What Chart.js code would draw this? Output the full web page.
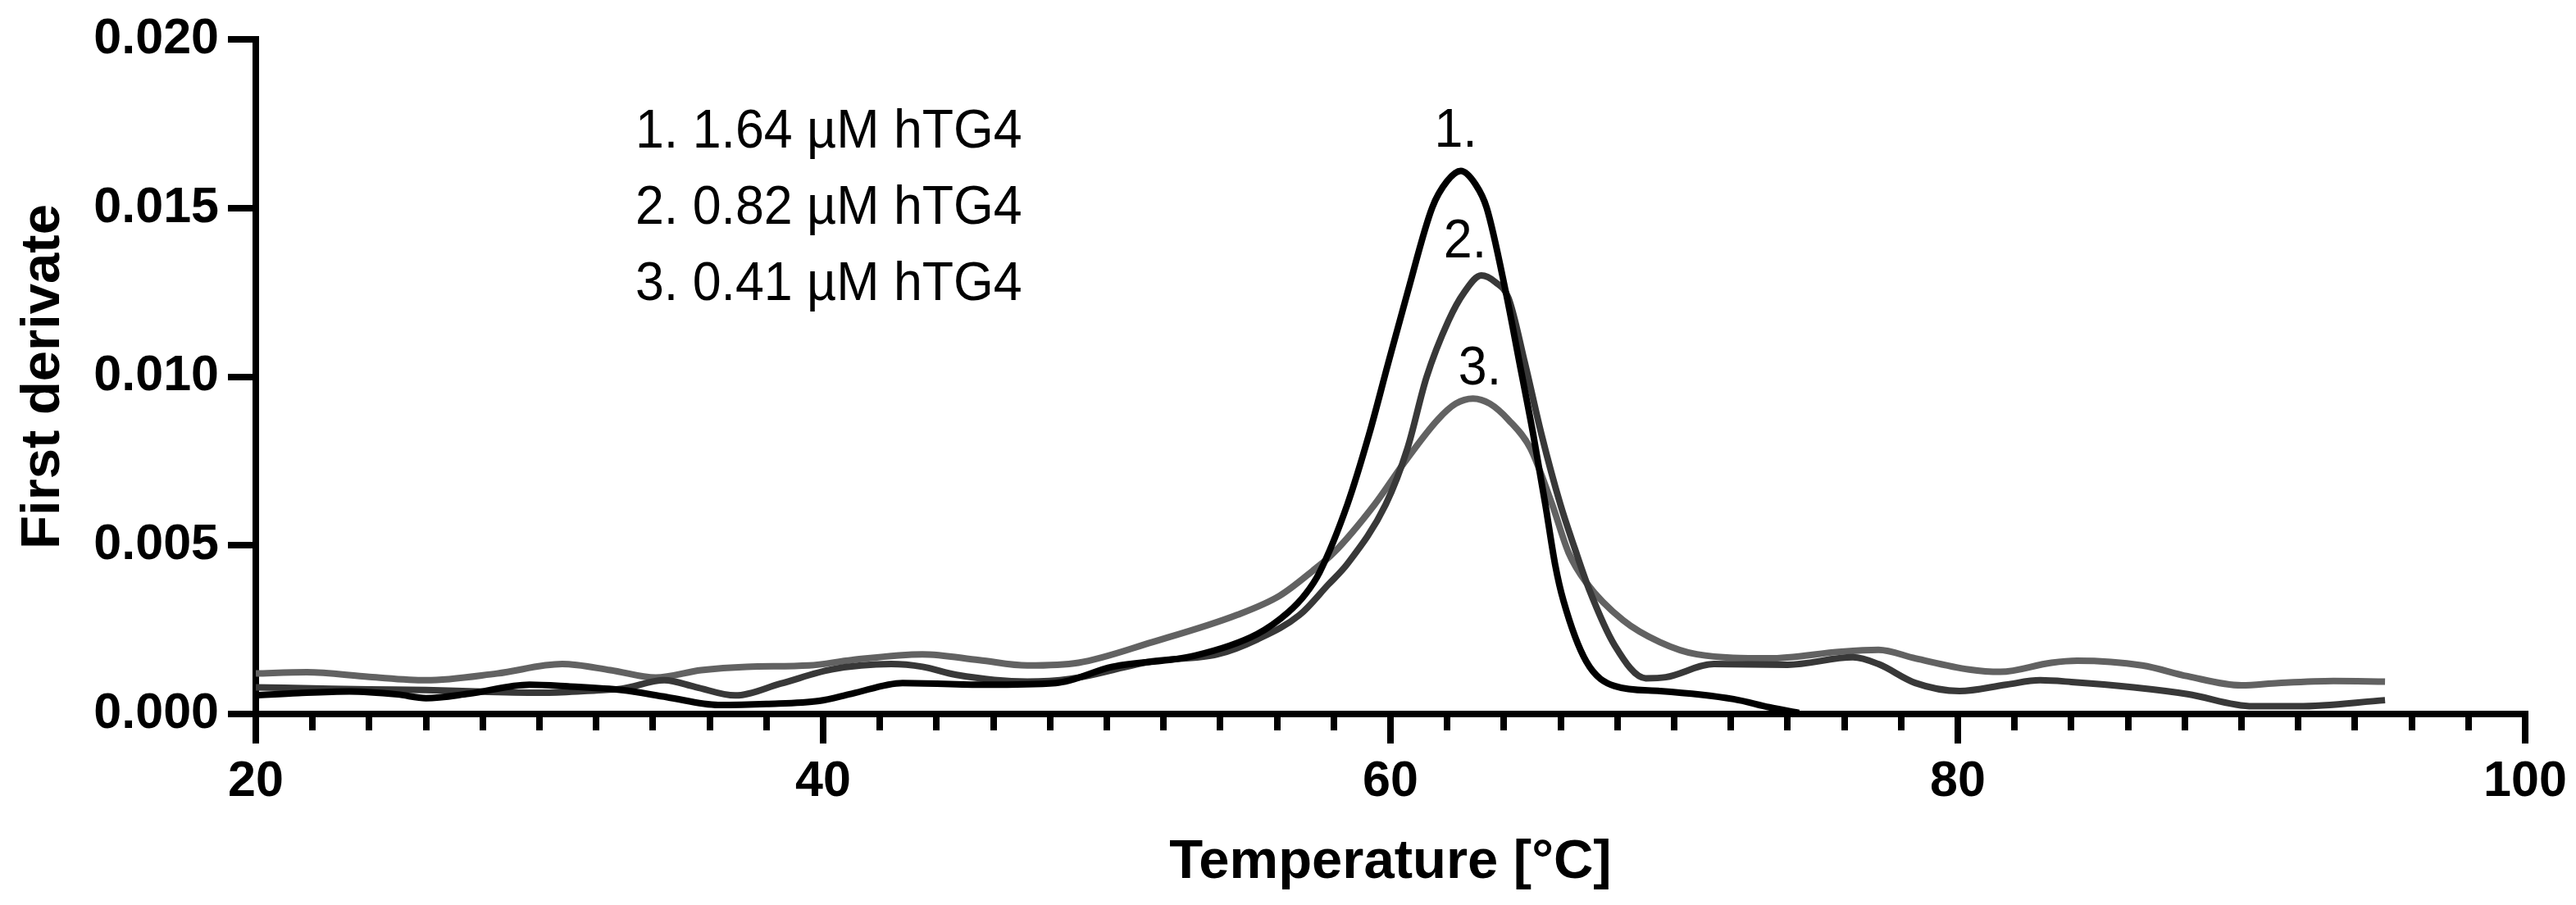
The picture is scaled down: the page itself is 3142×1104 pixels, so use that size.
<!DOCTYPE html>
<html>
<head>
<meta charset="utf-8">
<script src="https://cdn.jsdelivr.net/npm/chart.js@4/dist/chart.umd.min.js"></script>
<style>
  html, body { margin: 0; padding: 0; background: #ffffff; }
  #wrap { position: absolute; left: 0; top: 0; width: 3142px; height: 1104px; }
</style>
</head>
<body>
<div id="wrap"><canvas id="c" width="3142" height="1104"></canvas></div>
<script>
// ---------- data ----------
const series1Name = "1. 1.64 \u00b5M hTG4";
const series2Name = "2. 0.82 \u00b5M hTG4";
const series3Name = "3. 0.41 \u00b5M hTG4";

const temp1 = [20.0, 21.5, 23.3, 25.0, 26.0, 27.5, 29.65, 31.0, 32.9, 34.5, 36.3, 38.0, 39.86, 41.0, 42.8, 45.7, 48.2, 50.2, 53.1, 55.3, 56.4, 57.0, 57.5, 58.48, 59.25, 59.92, 60.6, 61.47, 62.0, 62.48, 63.0, 63.39, 64.07, 64.55, 65.03, 65.46, 65.8, 66.1, 66.9, 67.9, 69.5, 72.1, 73.35, 74.4];
const deriv1 = [0.00055, 0.00062, 0.00067, 0.00058, 0.00047, 0.00060, 0.00087, 0.00082, 0.00071, 0.00050, 0.00027, 0.00030, 0.00039, 0.00060, 0.00092, 0.00087, 0.00092, 0.00140, 0.00173, 0.00237, 0.00302, 0.00355, 0.00420, 0.00621, 0.00830, 0.01040, 0.01249, 0.01501, 0.01580, 0.01610, 0.01570, 0.01501, 0.01249, 0.01040, 0.00830, 0.00621, 0.00445, 0.00335, 0.00156, 0.00083, 0.00068, 0.00044, 0.00020, 0.00003];

const temp2 = [20.0, 22.0, 24.0, 26.0, 28.0, 30.2, 32.0, 32.9, 34.4, 35.5, 36.9, 38.5, 40.3, 42.4, 43.5, 44.7, 47.2, 48.7, 51.6, 53.9, 55.3, 56.8, 57.8, 58.48, 59.83, 60.6, 61.27, 62.04, 62.6, 63.2, 63.7, 64.16, 64.74, 65.32, 65.99, 66.5, 67.0, 67.9, 69.0, 69.7, 71.4, 74.0, 76.3, 77.2, 78.5, 80.06, 81.7, 82.9, 84.0, 86.2, 88.1, 90.4, 92.0, 95.06];
const deriv2 = [0.00079, 0.00076, 0.00073, 0.00071, 0.00066, 0.00063, 0.00070, 0.00075, 0.00100, 0.00080, 0.00055, 0.00090, 0.00132, 0.00148, 0.00140, 0.00116, 0.00096, 0.00104, 0.00156, 0.00177, 0.00221, 0.00294, 0.00383, 0.00445, 0.00621, 0.00788, 0.00998, 0.01165, 0.01250, 0.01300, 0.01280, 0.01233, 0.01040, 0.00830, 0.00621, 0.00490, 0.00370, 0.00204, 0.00106, 0.00109, 0.00148, 0.00146, 0.00168, 0.00148, 0.00092, 0.00068, 0.00087, 0.00100, 0.00095, 0.00079, 0.00059, 0.00023, 0.00023, 0.00041];

const temp3 = [20.0, 21.8, 24.0, 26.0, 28.5, 30.8, 32.5, 34.1, 35.7, 37.3, 39.5, 41.0, 43.5, 45.5, 47.2, 49.0, 51.6, 54.6, 56.1, 57.25, 58.0, 59.44, 60.5, 61.66, 62.3, 62.91, 63.5, 64.16, 64.93, 65.7, 66.28, 66.9, 68.2, 69.5, 70.8, 73.35, 75.9, 77.2, 78.5, 80.4, 81.5, 83.3, 84.2, 86.5, 88.1, 90.0, 91.3, 93.25, 95.06];
const deriv3 = [0.00120, 0.00124, 0.00110, 0.00100, 0.00120, 0.00148, 0.00130, 0.00108, 0.00130, 0.00140, 0.00144, 0.00160, 0.00177, 0.00160, 0.00144, 0.00152, 0.00213, 0.00294, 0.00351, 0.00424, 0.00478, 0.00621, 0.00747, 0.00872, 0.00920, 0.00935, 0.00920, 0.00872, 0.00788, 0.00621, 0.00478, 0.00390, 0.00278, 0.00213, 0.00177, 0.00165, 0.00185, 0.00190, 0.00165, 0.00132, 0.00125, 0.00152, 0.00158, 0.00144, 0.00112, 0.00085, 0.00092, 0.00098, 0.00096];

// axis ticks
const xMajorTicks = [20, 40, 60, 80, 100];
const xTickLabels = ["20", "40", "60", "80", "100"];
const yTicks = [0, 0.005, 0.010, 0.015, 0.020];
const yTickLabels = ["0.000", "0.005", "0.010", "0.015", "0.020"];
const xTitle = "Temperature [\u00b0C]";
const yTitle = "First derivate";

// annotations placed in data units (temperature, derivative)
const legendLines = [series1Name, series2Name, series3Name];
const legendT = [33.38, 33.38, 33.38];
const legendV = [0.01679, 0.01453, 0.01227];
const peakLabels = ["1.", "2.", "3."];
const peakT = [62.30, 62.63, 63.15];
const peakV = [0.01682, 0.01354, 0.00977];

// ---------- chart ----------
const FONT = "'Liberation Sans', Arial, Helvetica, sans-serif";
const toPts = (xs, ys) => xs.map((t, i) => ({ x: t, y: ys[i] }));

const annotate = {
  id: 'annotate',
  afterDatasetsDraw(chart) {
    const { ctx, scales: { x, y } } = chart;
    const drawText = (txt, px, py, align) => {
      ctx.save();
      ctx.translate(px, py);
      ctx.scale(0.95, 1);
      ctx.textAlign = align;
      ctx.fillText(txt, 0, 0);
      ctx.restore();
    };
    ctx.save();
    ctx.fillStyle = '#000';
    ctx.font = '66px ' + FONT;
    ctx.textBaseline = 'alphabetic';
    legendLines.forEach((txt, i) => {
      drawText(txt, x.getPixelForValue(legendT[i]), y.getPixelForValue(legendV[i]), 'left');
    });
    peakLabels.forEach((txt, i) => {
      drawText(txt, x.getPixelForValue(peakT[i]), y.getPixelForValue(peakV[i]), 'center');
    });
    ctx.restore();
  }
};

const lineStyle = (color) => ({
  borderColor: color,
  backgroundColor: color,
  borderWidth: 8,
  pointRadius: 0,
  pointHoverRadius: 0,
  fill: false,
  cubicInterpolationMode: 'monotone',
  borderCapStyle: 'butt',
  borderJoinStyle: 'round'
});

new Chart(document.getElementById('c'), {
  type: 'line',
  data: {
    datasets: [
      Object.assign({ label: series1Name, data: toPts(temp1, deriv1) }, lineStyle('#000000')),
      Object.assign({ label: series2Name, data: toPts(temp2, deriv2) }, lineStyle('#383838')),
      Object.assign({ label: series3Name, data: toPts(temp3, deriv3) }, lineStyle('#626262'))
    ]
  },
  options: {
    responsive: false,
    devicePixelRatio: 1,
    animation: false,
    events: [],
    layout: { padding: { left: 0, top: 48, right: 62, bottom: 0 } },
    plugins: { legend: { display: false }, tooltip: { enabled: false }, title: { display: false } },
    scales: {
      x2: {
        type: 'linear', position: 'bottom', weight: 0,
        min: 20, max: 100,
        afterFit: (s) => { s.height = 0; },
        border: { display: false },
        grid: { drawOnChartArea: false, drawTicks: true, tickLength: 20, tickWidth: 8, lineWidth: 8, color: '#000', tickColor: '#000' },
        ticks: { display: false, stepSize: 2, autoSkip: false }
      },
      x: {
        type: 'linear', position: 'bottom', weight: 1,
        min: 20, max: 100,
        afterFit: (s) => { s.height = 233; },
        afterBuildTicks: (s) => { s.ticks = xMajorTicks.map(v => ({ value: v })); },
        border: { display: true, color: '#000', width: 8 },
        grid: { drawOnChartArea: false, drawTicks: true, tickLength: 36, tickWidth: 8, lineWidth: 8, color: '#000', tickColor: '#000' },
        ticks: {
          autoSkip: false, maxRotation: 0, padding: 11, color: '#000',
          font: { family: FONT, size: 61, weight: 'bold' },
          callback: (v, i) => xTickLabels[i]
        },
        title: { display: true, text: xTitle, color: '#000', padding: { top: 0, bottom: 11 },
                 font: { family: FONT, size: 67, weight: 'bold' } }
      },
      y: {
        type: 'linear', position: 'left',
        min: 0, max: 0.02,
        afterFit: (s) => { s.width = 312; },
        afterBuildTicks: (s) => { s.ticks = yTicks.map(v => ({ value: v })); },
        border: { display: true, color: '#000', width: 8 },
        grid: { drawOnChartArea: false, drawTicks: true, tickLength: 34, tickWidth: 8, lineWidth: 8, color: '#000', tickColor: '#000' },
        ticks: {
          autoSkip: false, padding: 11, color: '#000',
          font: { family: FONT, size: 61, weight: 'bold' },
          callback: (v, i) => yTickLabels[i]
        },
        title: { display: true, text: yTitle, color: '#000', padding: { top: 13, bottom: 0 },
                 font: { family: FONT, size: 67, weight: 'bold' } }
      }
    }
  },
  plugins: [annotate]
});
</script>
</body>
</html>
